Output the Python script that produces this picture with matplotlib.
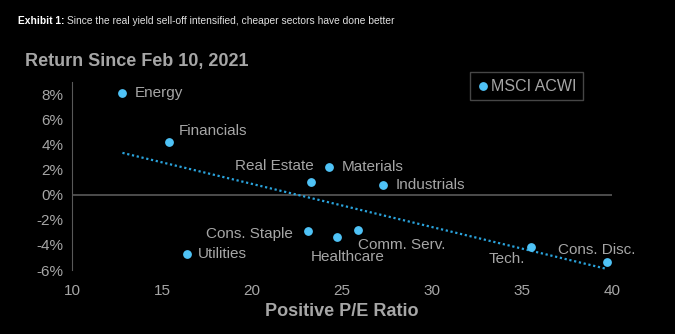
import numpy as np
import matplotlib
matplotlib.use("Agg")
import matplotlib.pyplot as plt

# sector forward P/E vs. return since Feb 10, 2021 (%)
sectors = ["Energy", "Financials", "Real Estate", "Materials", "Industrials",
           "Cons. Staple", "Healthcare", "Comm. Serv.", "Utilities", "Tech.",
           "Cons. Disc."]
pe_ratio = [12.8, 15.4, 23.3, 24.3, 27.3, 23.1, 24.7, 25.9, 16.4, 35.5, 39.7]
returns = [8.1, 4.2, 1.0, 2.2, 0.8, -2.9, -3.4, -2.8, -4.7, -4.2, -5.4]

# label placement: (dx, dy) in points, ha, va
label_pos = {
    "Energy": (9, 0, "left", "center"),
    "Financials": (7, 8, "left", "center"),
    "Real Estate": (2, 12, "right", "center"),
    "Materials": (9, 0, "left", "center"),
    "Industrials": (9, 0, "left", "center"),
    "Cons. Staple": (-11, -2, "right", "center"),
    "Healthcare": (8, -14, "center", "center"),
    "Comm. Serv.": (0, -11, "left", "center"),
    "Utilities": (8, 0, "left", "center"),
    "Tech.": (-4, -8, "right", "center"),
    "Cons. Disc.": (-7, 9, "center", "center"),
}

plt.rcParams["font.family"] = ["Liberation Sans", "DejaVu Sans"]
grey = "#a6a6a6"
dot = "#4fc3f7"

fig = plt.figure(figsize=(6.75, 3.34), dpi=100, facecolor="black")
ax = fig.add_axes([0.1067, 0.1916, 0.8, 0.5629], facecolor="black")

ax.scatter(pe_ratio, returns, s=28, color=dot, zorder=3, label="MSCI ACWI")

# linear trend line
slope, intercept = np.polyfit(pe_ratio, returns, 1)
xs = np.array([min(pe_ratio), max(pe_ratio)])
ax.plot(xs, slope * xs + intercept, color="#2aa3dc", lw=1.6,
        linestyle=(0, (1, 1.2)), zorder=2)

for name, x, y in zip(sectors, pe_ratio, returns):
    dx, dy, ha, va = label_pos[name]
    ax.annotate(name, (x, y), xytext=(dx, dy), textcoords="offset points",
                ha=ha, va=va, color=grey, fontsize=11)

ax.axhline(0, color="#595959", lw=1.2, zorder=1)
ax.set_xlim(10, 40)
ax.set_ylim(-6, 9)
ax.set_xticks(range(10, 41, 5))
ax.set_yticks(range(-6, 9, 2))
ax.set_yticklabels([f"{v}%" for v in range(-6, 9, 2)])
ax.tick_params(colors=grey, labelsize=11, length=0, pad=6)
ax.tick_params(axis="x", pad=10)
for side in ["top", "right", "bottom"]:
    ax.spines[side].set_visible(False)
ax.spines["left"].set_color("#595959")

ax.set_xlabel("Positive P/E Ratio", color=grey, fontsize=13,
              fontweight="bold", labelpad=4)

leg = ax.legend(loc="upper left", bbox_to_anchor=(0.722, 1.095),
                frameon=True, fontsize=11.5, handletextpad=0.1,
                handlelength=0.8, borderpad=0.4, labelcolor=grey)
leg.get_frame().set_facecolor("black")
leg.get_frame().set_edgecolor("#595959")
leg.get_frame().set_boxstyle("square", pad=0)

fig.text(0.037, 0.815, "Return Since Feb 10, 2021", color=grey,
         fontsize=13, fontweight="bold", va="center")

# header line: bold exhibit tag followed by regular caption
head = fig.text(0.027, 0.937, "Exhibit 1:", color="white", fontsize=7.4,
                fontweight="bold", va="center")
fig.canvas.draw()
bb = head.get_window_extent().transformed(fig.transFigure.inverted())
fig.text(bb.x1 + 0.004, 0.937, "Since the real yield sell-off intensified, "
         "cheaper sectors have done better", color="#e0e0e0", fontsize=7.4,
         va="center")

fig.savefig("out.png", dpi=100, facecolor="black")
